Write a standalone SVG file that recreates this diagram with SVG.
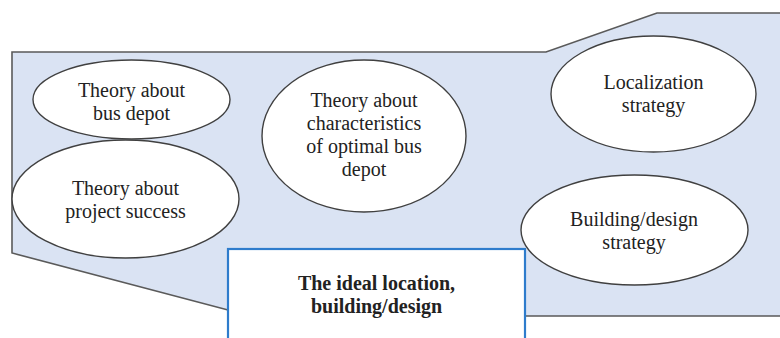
<svg xmlns="http://www.w3.org/2000/svg" width="780" height="338" viewBox="0 0 780 338">
<style>
.bg{fill:#dae3f3;stroke:#5a5a5a;stroke-width:1.6}
.el{fill:#ffffff;stroke:#404040;stroke-width:1.4}
.box{fill:#ffffff;stroke:#2e7ccc;stroke-width:2.2}
.t{font-family:"Liberation Serif",serif;font-size:20px;fill:#222;text-anchor:middle}
.b{font-weight:bold}
</style>
<rect x="0" y="0" width="780" height="338" fill="#ffffff"/>
<g id="background">
<polygon class="bg" points="12,52 546,52 657,13 790,13 790,316 526,316 228,310 12,253"/>
</g>
<g id="connectors"></g>
<g id="n1">
<ellipse class="el" cx="131.5" cy="99.5" rx="98.5" ry="39.5"/>
<text class="t" x="131.5" y="97">Theory about</text>
<text class="t" x="131.5" y="120">bus depot</text>
</g>
<g id="n2">
<ellipse class="el" cx="125.5" cy="199" rx="113.5" ry="59"/>
<text class="t" x="125.5" y="195">Theory about</text>
<text class="t" x="125.5" y="218">project success</text>
</g>
<g id="n3">
<ellipse class="el" cx="364" cy="136" rx="102" ry="76"/>
<text class="t" x="364" y="107">Theory about</text>
<text class="t" x="364" y="130">characteristics</text>
<text class="t" x="364" y="153">of optimal bus</text>
<text class="t" x="364" y="176">depot</text>
</g>
<g id="n4">
<ellipse class="el" cx="653.5" cy="94" rx="102.5" ry="58"/>
<text class="t" x="653.5" y="89">Localization</text>
<text class="t" x="653.5" y="112">strategy</text>
</g>
<g id="n5">
<ellipse class="el" cx="634.5" cy="230" rx="113.5" ry="55"/>
<text class="t" x="634" y="226">Building/design</text>
<text class="t" x="634" y="249">strategy</text>
</g>
<g id="n6">
<rect class="box" x="228" y="249" width="297" height="100"/>
<text class="t b" x="376.5" y="290">The ideal location,</text>
<text class="t b" x="376.5" y="313">building/design</text>
</g>
</svg>
